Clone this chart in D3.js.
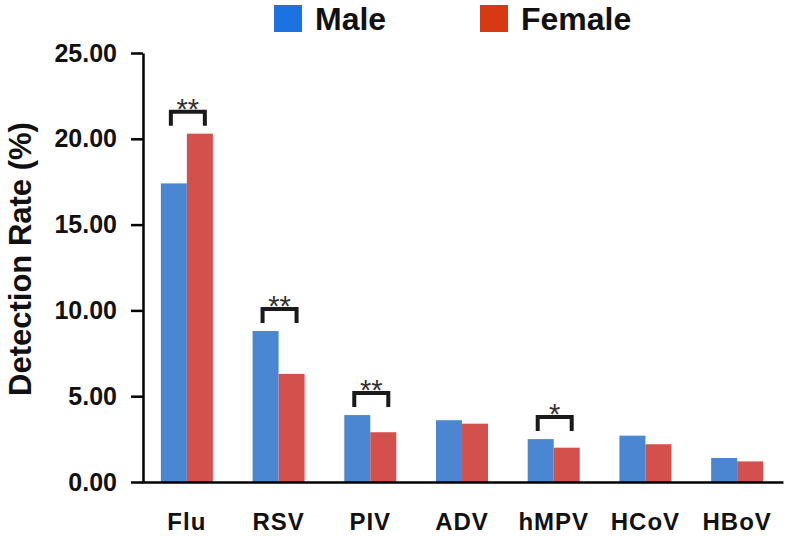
<!DOCTYPE html>
<html><head><meta charset="utf-8">
<script src="https://cdn.jsdelivr.net/npm/d3@7"></script>
<style>
html,body{margin:0;padding:0;background:#fff;}
svg text{font-family:"Liberation Sans",Arial,Helvetica,sans-serif;font-weight:bold;}
</style></head>
<body>
<svg id="chart" width="791" height="536"></svg>
<script>
const categories = ["Flu","RSV","PIV","ADV","hMPV","HCoV","HBoV"];
const maleValues = [17.4, 8.8, 3.9, 3.6, 2.5, 2.7, 1.4];
const femaleValues = [20.3, 6.3, 2.9, 3.4, 2.0, 2.2, 1.2];
const seriesNames = ["Male","Female"];
const yTicks = [0, 5, 10, 15, 20, 25];
const sigCategories = ["Flu","RSV","PIV","hMPV"];
const sigMarks = ["**","**","**","*"];

const svg = d3.select("#chart");
const x = d3.scaleBand().domain(categories).range([141, 783]).padding(0);
const y = d3.scaleLinear().domain([0, 25]).range([482, 53]);
const barW = 26;
const colors = {Male:"#4a86d1", Female:"#d3504d"};
const legendColors = {Male:"#1a73e0", Female:"#d63a12"};

// bars
const g = svg.append("g");
categories.forEach((c, i) => {
  const cx = x(c) + x.bandwidth() / 2;
  g.append("rect").attr("x", cx - barW).attr("width", barW)
    .attr("y", y(maleValues[i])).attr("height", y(0) - y(maleValues[i]))
    .attr("fill", colors.Male);
  g.append("rect").attr("x", cx).attr("width", barW)
    .attr("y", y(femaleValues[i])).attr("height", y(0) - y(femaleValues[i]))
    .attr("fill", colors.Female);
});

// y axis
const yAxis = d3.axisLeft(y).tickValues(yTicks).tickSize(12).tickSizeOuter(0)
  .tickFormat(d3.format(".2f")).tickPadding(14);
const ya = svg.append("g").attr("transform", "translate(143,0)").call(yAxis);
ya.select(".domain").attr("stroke", "#000").attr("stroke-width", 2.5);
ya.selectAll(".tick line").attr("stroke", "#000").attr("stroke-width", 2.5);
ya.selectAll(".tick text").attr("font-size", 25).attr("fill", "#111")
  .style("font-family", '"Liberation Sans",Arial,sans-serif').style("font-weight", "bold");

// x axis
const xAxis = d3.axisBottom(x).tickSize(0).tickSizeOuter(0).tickPadding(31);
const xa = svg.append("g").attr("transform", "translate(0,482)").call(xAxis);
xa.select(".domain").attr("stroke", "#000").attr("stroke-width", 2.5);
xa.selectAll(".tick text").attr("font-size", 24).attr("fill", "#111")
  .attr("letter-spacing", 1)
  .style("font-family", '"Liberation Sans",Arial,sans-serif').style("font-weight", "bold");

// y label
svg.append("text").attr("transform", "translate(31,259) rotate(-90)")
  .attr("text-anchor", "middle").attr("font-size", 31).attr("fill", "#111")
  .text("Detection Rate (%)");

// significance brackets
const bw = 34, bh = 14, gap = 8;
sigCategories.forEach((c, k) => {
  const i = categories.indexOf(c);
  const cx = x(c) + x.bandwidth() / 2 + 1;
  const top = y(Math.max(maleValues[i], femaleValues[i])) - gap - bh;
  svg.append("path")
    .attr("d", `M${cx - bw/2},${top + bh} V${top} H${cx + bw/2} V${top + bh}`)
    .attr("fill", "none").attr("stroke", "#1a1a1a").attr("stroke-width", 4)
    .attr("stroke-linejoin", "miter");
  svg.append("text").attr("x", cx).attr("y", top + 7)
    .attr("text-anchor", "middle").attr("font-size", 29).attr("fill", "#333")
    .style("font-weight", "normal")
    .text(sigMarks[k]);
});

// legend
const legendX = [274, 480];
seriesNames.forEach((s, i) => {
  svg.append("rect").attr("x", legendX[i]).attr("y", 5).attr("width", 28).attr("height", 27)
    .attr("fill", legendColors[s]);
  svg.append("text").attr("x", legendX[i] + 41).attr("y", 30)
    .attr("font-size", 32).attr("fill", "#111").text(s);
});
</script>
</body></html>
